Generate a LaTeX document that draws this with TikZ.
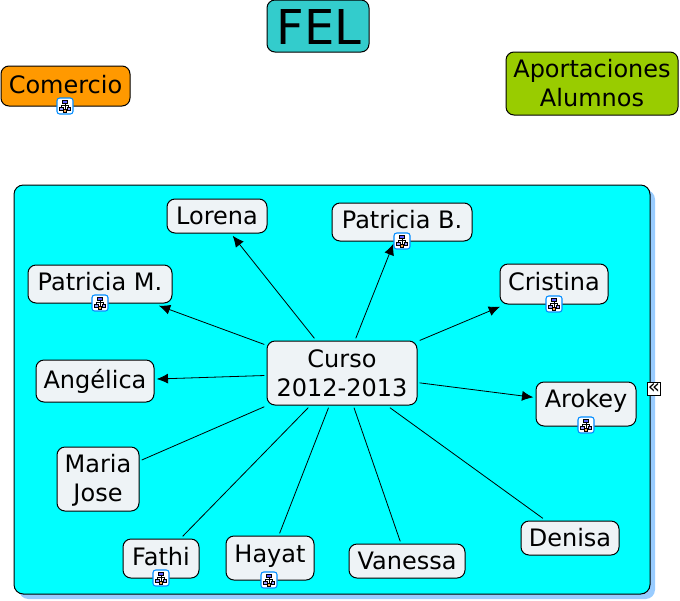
\documentclass[tikz,border=0pt]{standalone}
\usepackage{fontspec}
\setmainfont{DejaVu Sans}
\usetikzlibrary{arrows.meta}
\definecolor{panelc}{HTML}{00FFFF}
\definecolor{shadowc}{HTML}{99CCFF}
\definecolor{nodec}{HTML}{EEF3F6}
\definecolor{felc}{HTML}{33CCCC}
\definecolor{comc}{HTML}{FF9900}
\definecolor{apoc}{HTML}{99CC00}
\tikzset{
  x=0.75pt,y=-0.75pt,
  box/.style={draw=black,line width=0.75pt,rounded corners=6pt,inner sep=0pt,outer sep=2pt,align=center,text=black,font=\fontsize{18}{21.75}\selectfont,fill=nodec},
  link/.style={draw=black,line width=0.6pt},
  arrowlink/.style={link,-{Latex[length=8.5pt,width=7.5pt]}},
  pics/mapicon/.style={code={
    \draw[draw=blue!45!cyan,fill=white,line width=0.8pt,rounded corners=2pt] (-8,-8) rectangle (8,8);
    \draw[black,line width=0.45pt] (0,-3) -- (0,3) (-3.5,-1) -- (3.5,-1) (-3.5,-1) -- (-3.5,1) (3.5,-1) -- (3.5,1);
    \draw[black,fill=blue!65,line width=0.3pt] (-2.5,-6) rectangle (2.5,-3);
    \draw[black,fill=orange!70,line width=0.3pt] (-1.5,3) rectangle (1.5,6);
    \draw[black,fill=blue!40,line width=0.3pt] (-5.5,1) rectangle (-2,4);
    \draw[black,fill=blue!40,line width=0.3pt] (2,1) rectangle (5.5,4);
  }}
}
\newcommand{\mk}[8]{% name, x1, y1, x2, y2, fill, text dy, text
  \node[box,fill=#6,minimum width={(#4-#2)*0.75pt},minimum height={(#5-#3)*0.75pt}] (#1) at ({(#2+#4)/2},{(#3+#5)/2}) {};
  \node[inner sep=0pt,align=center,font=\fontsize{18}{21.75}\selectfont] (#1t) at ({(#2+#4)/2},{(#3+#5)/2+#7}) {#8};
}
\begin{document}
\begin{tikzpicture}
\useasboundingbox (0,0) rectangle (680,600);
\fill[white] (0,0) rectangle (680,600);
% panel
\fill[shadowc,rounded corners=7pt] (19,190) rectangle (655,599);
\draw[fill=panelc,line width=0.75pt,rounded corners=7pt] (14,185) rectangle (650,594);
% top boxes
\node[box,fill=felc,minimum width=76.5pt,minimum height=39pt] (fel) at (318,26) {};
\node[font=\fontsize{36}{40}\selectfont,inner sep=0pt] (felt) at (319,27) {FEL};
\mk{comercio}{1}{66}{130}{106}{comc}{-1}{Comercio}
\mk{aport}{506}{52}{678}{115}{apoc}{0}{Aportaciones\\Alumnos}
% concept nodes
\mk{curso}{267}{341}{417}{405}{nodec}{0}{Curso\\2012-2013}
\mk{lorena}{167}{199}{267}{233}{nodec}{0}{Lorena}
\mk{patb}{332}{203}{472}{241}{nodec}{-2}{Patricia B.}
\mk{patm}{28}{265}{172}{303}{nodec}{-2}{Patricia M.}
\mk{cristina}{500}{264}{608}{304}{nodec}{-2}{Cristina}
\mk{angelica}{36}{360}{154}{402}{nodec}{0}{Angélica}
\mk{arokey}{536}{382}{636}{426}{nodec}{-3}{Arokey}
\mk{maria}{57}{447}{139}{511}{nodec}{1}{Maria\\Jose}
\mk{fathi}{123}{539}{199}{578}{nodec}{-2}{Fathi}
\mk{hayat}{226}{536}{314}{580}{nodec}{-2}{Hayat}
\mk{vanessa}{349}{544}{465}{578}{nodec}{0}{Vanessa}
\mk{denisa}{521}{521}{619}{555}{nodec}{0}{Denisa}
% connectors
\draw[arrowlink] (curso) -- (lorena);
\draw[arrowlink] (curso) -- (patb);
\draw[arrowlink] (curso) -- (patm);
\draw[arrowlink] (curso) -- (cristina);
\draw[arrowlink] (curso) -- (angelica);
\draw[arrowlink] (curso) -- (arokey);
\draw[link] (curso) -- (maria);
\draw[link] (curso) -- (fathi);
\draw[link] (curso) -- (hayat);
\draw[link] (curso) -- (vanessa);
\draw[link] (curso) -- (denisa);
% icons
\pic at (65,106) {mapicon};
\pic at (402,241) {mapicon};
\pic at (100,303) {mapicon};
\pic at (554,304) {mapicon};
\pic at (586,425) {mapicon};
\pic at (161,578) {mapicon};
\pic at (269,580) {mapicon};
% collapse marker
\node[draw=black,fill=white,line width=0.9pt,minimum size=9.5pt,inner sep=0pt] (collapse) at (654,389) {};
\node[inner sep=0pt,font=\fontsize{15}{15}\selectfont] (collapset) at (654,388) {«};
\end{tikzpicture}
\end{document}
